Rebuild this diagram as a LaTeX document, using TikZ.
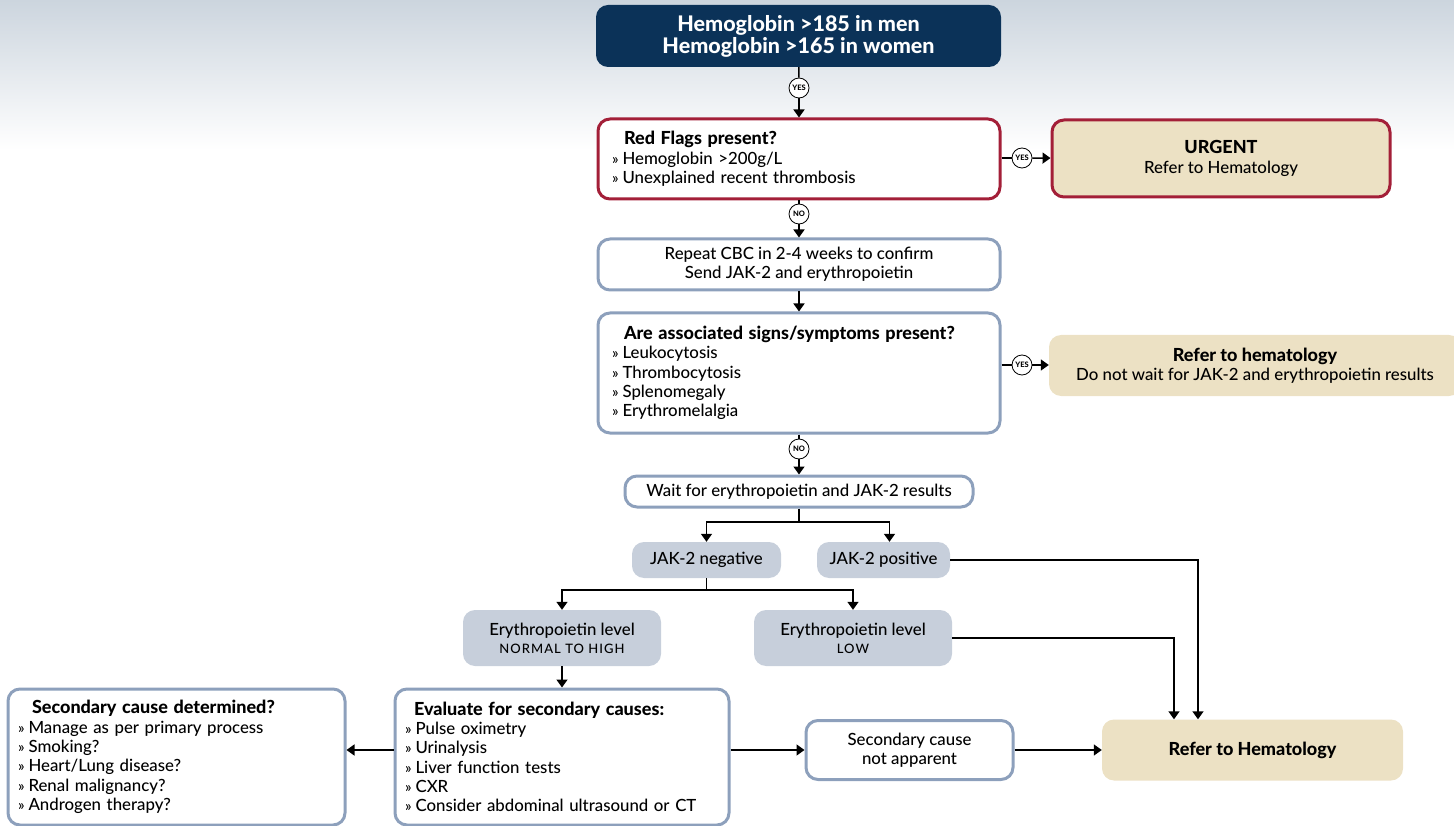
\documentclass[tikz,border=0pt]{standalone}
\usepackage{fontspec}
\setmainfont{Lato}[UprightFont={Lato Medium}, BoldFont={Lato Heavy}]
\usetikzlibrary{arrows.meta,calc}

\definecolor{navy}{HTML}{0B3258}
\definecolor{flagred}{HTML}{A31F38}
\definecolor{steel}{HTML}{8DA0BC}
\definecolor{mist}{HTML}{C7CFDB}
\definecolor{sand}{HTML}{ECE1C4}
\definecolor{bgtop}{HTML}{CCD5DE}

\newcommand\fbody{\fontsize{16.8}{19.3}\selectfont}
\newcommand\fhead{\fontsize{21.5}{22}\selectfont\bfseries}
\newcommand\hd[1]{{\fontsize{18}{19.3}\selectfont\bfseries #1}}
\newcommand\bul{{\fontsize{15}{12}\selectfont »}\hspace{4pt}}
\newcommand\capsnote[1]{{\fontsize{13}{14}\selectfont\addfontfeature{LetterSpace=8}#1}}

\tikzset{
  x=1pt, y=-1pt,
  box/.style={draw=steel, line width=3pt, fill=white, rounded corners=12pt,
    inner sep=0pt, font=\fbody},
  redbox/.style={box, draw=flagred},
  pill/.style={fill=mist, rounded corners=12pt, inner sep=0pt, font=\fbody, align=center},
  refer/.style={fill=sand, rounded corners=12pt, inner sep=0pt, font=\fbody, align=center},
  answer/.style={circle, draw, line width=0.8pt, fill=white, minimum size=20pt,
    inner sep=0pt, font=\fontsize{7.5}{8}\selectfont\bfseries},
  link/.style={line width=1.5pt},
  arr/.style={link, -{Triangle[width=11pt,length=8pt]}},
}

\begin{document}
\begin{tikzpicture}
\useasboundingbox (0,0) rectangle (1454,826);
% soft header band
\fill[top color=bgtop, bottom color=white] (0,0) rectangle (1454,150);

% ---------- nodes ----------
\node[fill=navy, rounded corners=12pt, text=white, font=\fhead, align=center,
  minimum width=405pt, minimum height=62pt] (top) at (798.5,36)
  {Hemoglobin >185 in men\\Hemoglobin >165 in women};

\node[redbox, align=left, text width=374pt, inner xsep=14pt,
  minimum height=80pt] (flags) at (799,159)
  {\hspace*{12pt}\hd{Red Flags present?}\\
   \bul Hemoglobin >200g/L\\
   \bul Unexplained recent thrombosis};

\node[redbox, fill=sand, align=center, minimum width=338pt, minimum height=77pt]
  (urgent) at (1221,158.5) {\hd{URGENT}\\Refer to Hematology};

\node[box, align=center, minimum width=402pt, minimum height=51pt]
  (repeat) at (799,264.5)
  {Repeat CBC in 2-4 weeks to confirm\\Send JAK-2 and erythropoietin};

\node[box, align=left, text width=374pt, inner xsep=14pt, minimum height=120pt]
  (signs) at (799,373)
  {\hspace*{12pt}\hd{Are associated signs/symptoms present?}\\
   \bul Leukocytosis\\
   \bul Thrombocytosis\\
   \bul Splenomegaly\\
   \bul Erythromelalgia};

\node[refer, minimum width=412pt, minimum height=61pt] (early) at (1255,365.5)
  {\hd{Refer to hematology}\\Do not wait for JAK-2 and erythropoietin results};

\node[box, align=center, minimum width=348pt, minimum height=31pt]
  (wait) at (799,491.5) {Wait for erythropoietin and JAK-2 results};

\node[pill, minimum width=149pt, minimum height=36pt] (jneg) at (706.5,560) {JAK-2 negative};
\node[pill, minimum width=133pt, minimum height=36pt] (jpos) at (883.5,560) {JAK-2 positive};

\node[pill, minimum width=198pt, minimum height=56pt] (epohigh) at (562,638)
  {Erythropoietin level\\[-1pt]\capsnote{NORMAL TO HIGH}};
\node[pill, minimum width=198pt, minimum height=56pt] (epolow) at (853,638)
  {Erythropoietin level\\[-1pt]\capsnote{LOW}};

\node[box, align=left, text width=314pt, inner xsep=10pt, minimum height=136pt]
  (eval) at (562,757)
  {\hspace*{9pt}\hd{Evaluate for secondary causes:}\\
   \bul Pulse oximetry\\
   \bul Urinalysis\\
   \bul Liver function tests\\
   \bul CXR\\
   \bul Consider abdominal ultrasound or CT};

\node[box, align=left, text width=317pt, inner xsep=10pt, minimum height=136pt]
  (secdet) at (176.5,757)
  {\hspace*{14pt}\hd{Secondary cause determined?}\\
   \bul Manage as per primary process\\
   \bul Smoking?\\
   \bul Heart/Lung disease?\\
   \bul Renal malignancy?\\
   \bul Androgen therapy?};

\node[box, align=center, minimum width=207pt, minimum height=59pt]
  (notapp) at (909.5,750) {Secondary cause\\not apparent};

\node[refer, minimum width=301pt, minimum height=61pt] (final) at (1252.5,750)
  {\hd{Refer to Hematology}};

% answer markers
\node[answer] (yes1) at (799,88) {YES};
\node[answer] (yes2) at (1022,158) {YES};
\node[answer] (no1) at (799,214) {NO};
\node[answer] (yes3) at (1022,365) {YES};
\node[answer] (no2) at (799,449) {NO};

\coordinate (split1) at (799,522);
\coordinate (split2) at (706.5,590);

% ---------- connectors ----------
\draw[link] (top) -- (yes1);
\draw[arr] (yes1) -- (flags);
\draw[link] (flags.east |- yes2) -- (yes2);
\draw[arr] (yes2) -- (urgent);
\draw[link] (flags) -- (no1);
\draw[arr] (no1) -- (repeat);
\draw[arr] (repeat) -- (signs);
\draw[link] (signs.east |- yes3) -- (yes3);
\draw[arr] (yes3) -- (early.west |- yes3);
\draw[link] (signs) -- (no2);
\draw[arr] (no2) -- (wait);
\draw[link] (wait) -- (split1);
\draw[arr] (split1) -| (jneg);
\draw[arr] (split1) -| ([xshift=6pt]jpos.north);
\draw[link] (jneg) -- (split2);
\draw[arr] (split2) -| (epohigh);
\draw[arr] (split2) -| (epolow);
\draw[arr] (jpos.east) -| ([xshift=-54.5pt]final.north);
\draw[arr] (epolow.east) -| ([xshift=-78.5pt]final.north);
\draw[arr] (epohigh) -- (eval);
\draw[arr] (eval.west |- notapp) -- (secdet.east |- notapp);
\draw[arr] (eval.east |- notapp) -- (notapp);
\draw[arr] (notapp) -- (final);
\end{tikzpicture}
\end{document}
